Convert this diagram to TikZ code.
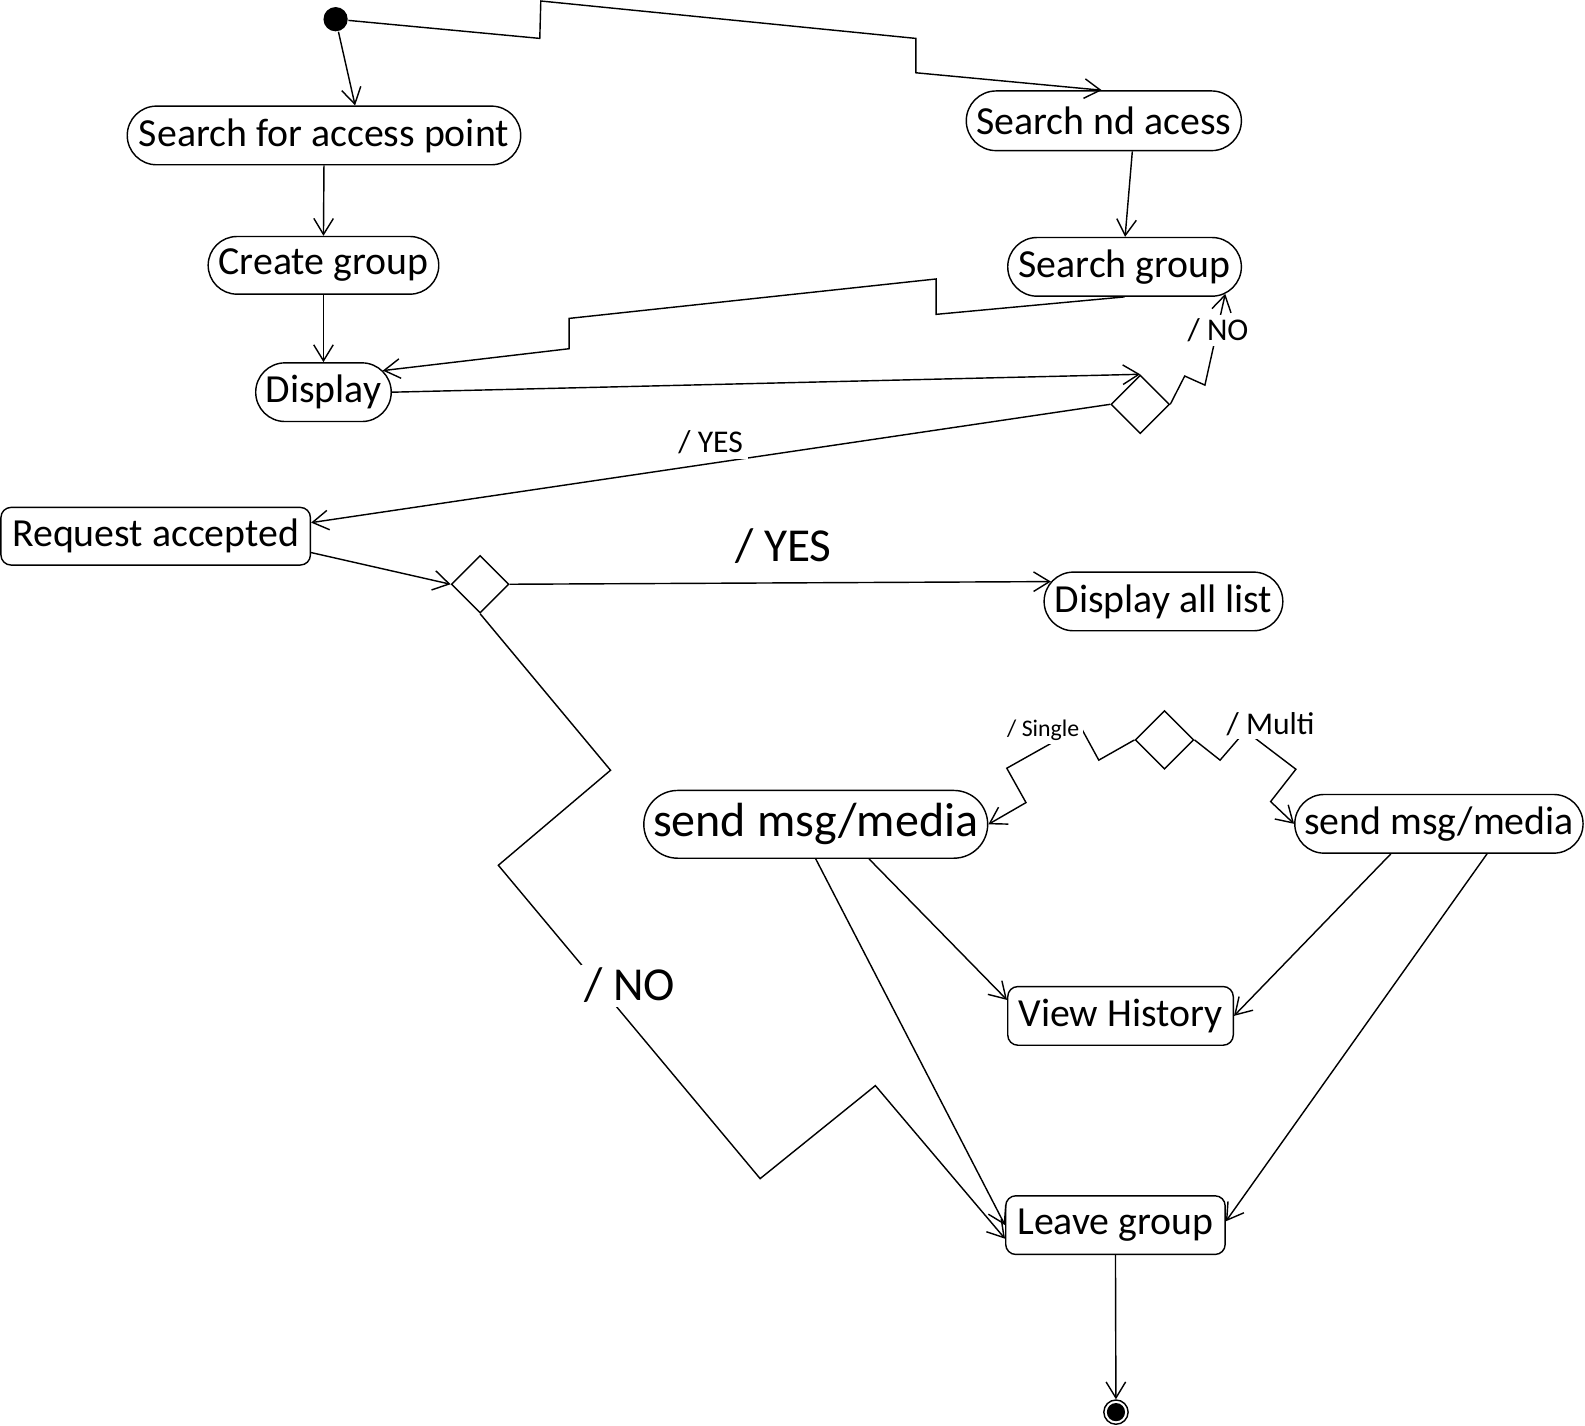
\documentclass[tikz,border=0pt]{standalone}
\usepackage{fontspec}
\setmainfont{Carlito}
\usetikzlibrary{arrows.meta,shapes.misc,shapes.geometric}
\begin{document}
\begin{tikzpicture}[x=0.01cm,y=-0.01cm,
  line width=0.4pt,
  arr/.style={draw, -{Straight Barb[length=4.5pt,width=5.5pt]}},
  basefont/.style={font=\fontsize{11.2}{13}\selectfont},
  stadium/.style={draw, rounded rectangle, inner sep=0pt, fill=white, basefont},
  rbox/.style={draw, rectangle, rounded corners=0.1cm, inner sep=0pt, fill=white, basefont},
  decision/.style={draw, diamond, inner sep=0pt, minimum width=0.58cm, minimum height=0.58cm},
  lbl/.style={fill=white, inner sep=1pt, font=\fontsize{8.9}{10}\selectfont},
  smlbl/.style={fill=white, inner sep=1pt, font=\fontsize{6.7}{8}\selectfont},
  biglbl/.style={fill=white, inner sep=1pt, font=\fontsize{13.3}{15}\selectfont},
]
\useasboundingbox (0,0) rectangle (1568,1410);

% nodes
\node[circle, fill, minimum size=0.24cm, inner sep=0pt] (start) at (332,19) {};
\node[stadium, minimum width=3.89cm, minimum height=0.58cm] (sap) at (320.5,134) {Search for access point};
\node[stadium, minimum width=2.72cm, minimum height=0.59cm] (sna) at (1092,119.5) {Search nd acess};
\node[stadium, minimum width=2.28cm, minimum height=0.57cm] (cg) at (320,262.5) {Create group};
\node[stadium, minimum width=2.31cm, minimum height=0.58cm] (sg) at (1112.5,264) {Search group};
\node[stadium, minimum width=1.34cm, minimum height=0.58cm] (disp) at (320,388) {Display};
\node[decision] (d1) at (1128,400) {};
\node[rbox, minimum width=3.06cm, minimum height=0.57cm] (ra) at (154,530.5) {Request accepted};
\node[decision, minimum width=0.57cm, minimum height=0.57cm] (d2) at (475,578) {};
\node[stadium, minimum width=2.36cm, minimum height=0.58cm] (dal) at (1151,595) {Display all list};
\node[decision] (d3) at (1152,732) {};
\node[stadium, minimum width=3.40cm, minimum height=0.67cm, font=\fontsize{13.5}{16}\selectfont] (sml) at (807,815.5) {send msg/media};
\node[stadium, minimum width=2.85cm, minimum height=0.58cm] (smr) at (1423.5,815) {send msg/media};
\node[rbox, minimum width=2.23cm, minimum height=0.58cm] (vh) at (1108.5,1005) {View History};
\node[rbox, minimum width=2.17cm, minimum height=0.58cm] (lg) at (1103.5,1212) {Leave group};
\node[circle, draw, minimum size=0.24cm, inner sep=0pt] (end) at (1104,1397) {};
\node[circle, fill, minimum size=0.18cm, inner sep=0pt] (endin) at (end.center) {};

% connectors
\draw[arr] (start) -- (sap.44);
\draw[arr] (start) -- (534,38) -- (535,1) -- (906,38) -- (906,72) -- (sna.94);
\draw[arr] (sap.south) -- (cg.north);
\draw[arr] (cg.south) -- (disp.north);
\draw[arr] (sna.-47) -- (sg.89);
\draw[arr] (sg.south) -- (926,311) -- (926,276) -- (563,315) -- (563,345) -- (disp.20);
\draw[arr] (disp.east) -- (d1.north);
\draw[arr] (d1.east) -- (1172,372) -- (1192,381) -- (sg.-15);
\node[lbl] (lno) at (1205,327) {/ NO};
\draw[arr] (d1.west) -- (ra.5);
\node[lbl, inner sep=1.5pt] (lyes) at (703,437) {/ YES};
\draw[arr] (ra.-6) -- (d2.west);
\draw[arr] (d2.east) -- (dal.170);
\node[biglbl] (byes) at (775,540) {/ YES};
\draw[arr] (d2.south) -- (604,762) -- (493,856) -- (752,1166) -- (866,1074) -- (lg.187);
\node[biglbl] (bno) at (623,975) {/ NO};
\draw[arr] (d3.west) -- (1087,752) -- (1069,719) -- (996,760) -- (1015,794) -- (sml.east);
\node[smlbl] (lsingle) at (1032,722) {/ Single};
\draw[arr] (d3.east) -- (1207,752) -- (1232,723) -- (1282,761) -- (1257,793) -- (smr.west);
\node[lbl] (lmulti) at (1257,716) {/ Multi};
\draw[arr] (sml.-33) -- (vh.172);
\draw[arr] (sml.south) -- (lg.west);
\draw[arr] (smr.212) -- (vh.east);
\draw[arr] (smr.-32) -- (lg.2);
\draw[arr] (lg.south) -- (end);
\end{tikzpicture}
\end{document}
